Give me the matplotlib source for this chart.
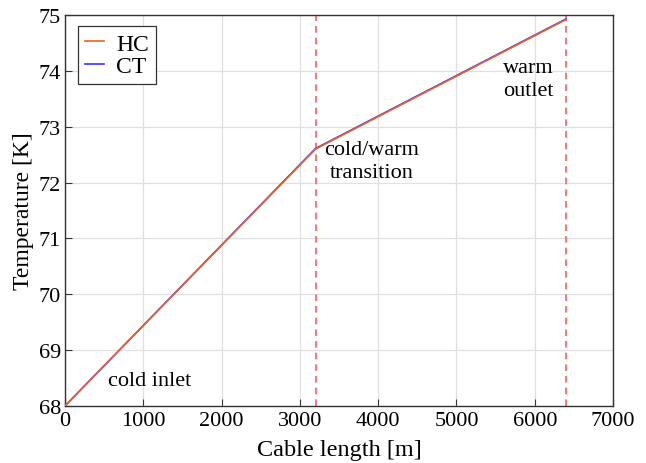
import matplotlib
matplotlib.use("Agg")
import matplotlib.pyplot as plt

plt.rcParams["font.family"] = ["Liberation Serif", "DejaVu Serif"]

# cable position [m] and temperatures [K]
length = [0, 3200, 6400]
hc_temp = [68.0, 72.60, 74.92]
ct_temp = [68.0, 72.61, 74.93]
markers_x = [3200, 6400]

fig = plt.figure(figsize=(6.46, 4.64), dpi=100)
ax = fig.add_axes([0.1006, 0.123, 0.8484, 0.8425])

ax.plot(length, ct_temp, color="#3333ff", lw=1.2, label="CT", zorder=3)
ax.plot(length, hc_temp, color="#e8602c", lw=1.2, label="HC", zorder=4)
for xv in markers_x:
    ax.axvline(xv, color="#ff5c5c", ls=(0, (4, 3)), lw=1.2, zorder=2)

ax.text(1086, 68.45, "cold inlet", ha="center", va="center", fontsize=16)
ax.text(3920, 72.39, "cold/warm\ntransition", ha="center", va="center",
        fontsize=16, linespacing=1.3)
ax.text(5913, 73.85, "warm\noutlet", ha="center", va="center",
        fontsize=16, linespacing=1.3)

ax.set_xlim(0, 7000)
ax.set_ylim(68, 75)
ax.set_xticks(range(0, 7001, 1000))
ax.set_yticks(range(68, 76))
ax.grid(True, color="#e0e0e0", lw=0.9)
ax.set_axisbelow(True)
ax.tick_params(direction="in", labelsize=16, length=5, color="#333333")
ax.tick_params(axis="x", pad=4)
ax.tick_params(axis="y", pad=3)
for sp in ax.spines.values():
    sp.set_color("#333333")
    sp.set_linewidth(1.0)

ax.set_xlabel("Cable length [m]", fontsize=17.5, labelpad=6)
ax.set_ylabel("Temperature [K]", fontsize=17, labelpad=3)

handles, labels = ax.get_legend_handles_labels()
leg = ax.legend(handles[::-1], labels[::-1], loc="upper left",
                bbox_to_anchor=(0.024, 0.972), borderaxespad=0, fontsize=17,
                handlelength=0.8, handletextpad=0.5, borderpad=0.3,
                labelspacing=0.05, fancybox=False, framealpha=1)
leg.get_frame().set_edgecolor("#333333")
leg.get_frame().set_linewidth(0.9)

fig.savefig("out.png", dpi=100)
